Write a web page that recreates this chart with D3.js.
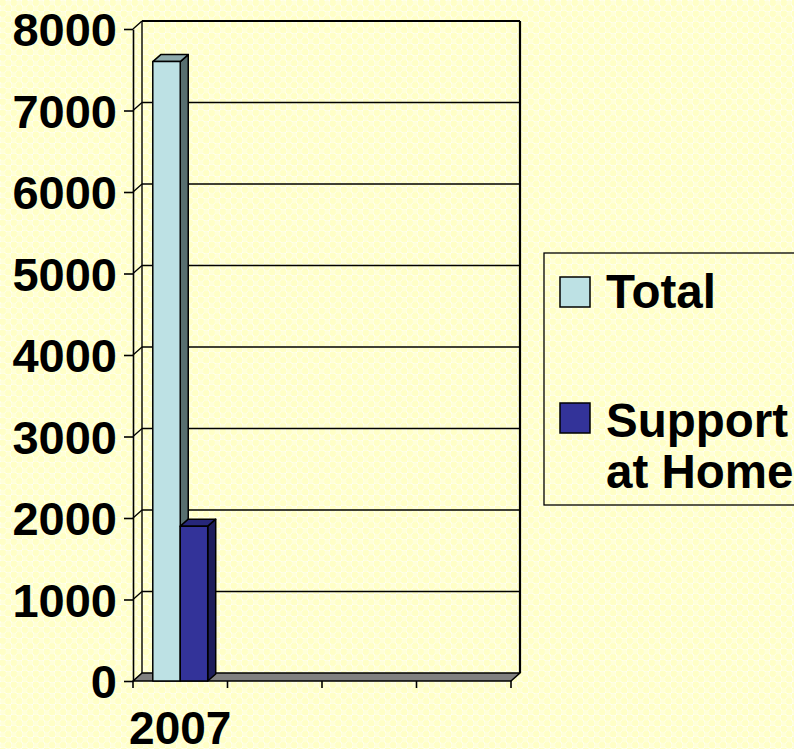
<!DOCTYPE html>
<html>
<head>
<meta charset="utf-8">
<script src="https://cdn.jsdelivr.net/npm/d3@7"></script>
<style>
html,body{margin:0;padding:0;background:#ffffd8;overflow:hidden;}
svg{display:block;}
</style>
</head>
<body>
<svg id="chart" width="794" height="749"></svg>
<script>
// ---- data ----
const categories = ["2007", "", "", ""];
const seriesNames = ["Total", "Support at Home"];
const totalValues = [7600, null, null, null];
const supportValues = [1900, null, null, null];
const yTicks = [0, 1000, 2000, 3000, 4000, 5000, 6000, 7000, 8000];

const colors = {
  "Total": {front: "#bde1e4", top: "#8fabad", side: "#586f70"},
  "Support at Home": {front: "#333399", top: "#27277a", side: "#1e1e5a"}
};

const svg = d3.select("#chart");
const W = 794, H = 749;
const font = "'Liberation Sans', Arial, Helvetica, sans-serif";

// background pattern
const defs = svg.append("defs");
const pat = defs.append("pattern").attr("id", "bg").attr("patternUnits", "userSpaceOnUse")
  .attr("width", 11).attr("height", 11);
pat.append("rect").attr("width", 11).attr("height", 11).attr("fill", "#fffff2");
[[2.75, 2.75], [8.25, 8.25]].forEach(([cx, cy]) => {
  pat.append("circle").attr("cx", cx).attr("cy", cy).attr("r", 3.4).attr("fill", "#ffffc6");
});
[[8.25, 2.75], [2.75, 8.25]].forEach(([cx, cy]) => {
  pat.append("circle").attr("cx", cx).attr("cy", cy).attr("r", 2.6).attr("fill", "#ffffd8");
});
svg.append("rect").attr("width", W).attr("height", H).attr("fill", "url(#bg)");

// scales
const x0 = 133, x1 = 511;
const y = d3.scaleLinear().domain([0, 8000]).range([681, 29]);
const x = d3.scaleBand().domain(d3.range(categories.length)).range([x0, x1]).paddingInner(0).paddingOuter(0);
const xs = d3.scaleBand().domain(seriesNames).range([0, x.bandwidth()]).paddingInner(0).paddingOuter(0.72);
const wdx = 9, wdy = -8;   // wall depth
const bdx = 8, bdy = -7;   // bar depth

// walls / gridlines
const grid = svg.append("g").attr("stroke", "#000").attr("fill", "none");
yTicks.forEach(v => {
  if (v === 0) return;
  const yf = y(v), yb = y(v) + wdy;
  grid.append("line").attr("x1", x0 + wdx).attr("x2", x1 + wdx).attr("y1", yb).attr("y2", yb)
    .attr("stroke-width", v === 8000 ? 2.2 : 1.4);
  grid.append("line").attr("x1", x0).attr("y1", yf).attr("x2", x0 + wdx).attr("y2", yb).attr("stroke-width", 1.4);
});
grid.append("line").attr("x1", x0 + wdx).attr("x2", x0 + wdx).attr("y1", y(8000) + wdy).attr("y2", y(0) + wdy).attr("stroke-width", 1.4);
grid.append("line").attr("x1", x1 + wdx).attr("x2", x1 + wdx).attr("y1", y(8000) + wdy).attr("y2", y(0) + wdy).attr("stroke-width", 2.2);

// floor
svg.append("path")
  .attr("d", `M${x0},${y(0)}L${x1},${y(0)}L${x1 + wdx},${y(0) + wdy}L${x0 + wdx},${y(0) + wdy}Z`)
  .attr("fill", "#808080").attr("stroke", "#000").attr("stroke-width", 1.6).attr("stroke-linejoin", "round");

// bars
const barData = [];
categories.forEach((c, i) => {
  [["Total", totalValues[i]], ["Support at Home", supportValues[i]]].forEach(([s, v]) => {
    if (v != null) barData.push({cat: i, series: s, value: v});
  });
});
const bars = svg.append("g").selectAll("g").data(barData).join("g")
  .attr("stroke", "#000").attr("stroke-width", 1.5).attr("stroke-linejoin", "round");
bars.each(function(d) {
  const g = d3.select(this);
  const bx = x(d.cat) + xs(d.series), bw = xs.bandwidth();
  const yt = y(d.value), yb = y(0);
  const c = colors[d.series];
  g.append("path").attr("fill", c.side)
    .attr("d", `M${bx + bw},${yb}L${bx + bw + bdx},${yb + bdy}L${bx + bw + bdx},${yt + bdy}L${bx + bw},${yt}Z`);
  g.append("path").attr("fill", c.top)
    .attr("d", `M${bx},${yt}L${bx + bdx},${yt + bdy}L${bx + bw + bdx},${yt + bdy}L${bx + bw},${yt}Z`);
  g.append("rect").attr("fill", c.front).attr("x", bx).attr("y", yt).attr("width", bw).attr("height", yb - yt);
});

// y axis
const yAxis = svg.append("g").attr("transform", `translate(${x0},0)`)
  .call(d3.axisLeft(y).tickValues(yTicks).tickSize(9).tickSizeOuter(0).tickPadding(7).tickFormat(d3.format("d")));
yAxis.select(".domain").attr("stroke", "#000").attr("stroke-width", 1.6);
yAxis.selectAll(".tick line").attr("stroke", "#000").attr("stroke-width", 1.6);
yAxis.selectAll(".tick text").attr("font-family", font).attr("font-weight", "bold").attr("font-size", 47)
  .attr("fill", "#000").attr("dy", "0.36em");

// x axis: boundary ticks + category labels
const bounds = d3.range(categories.length + 1).map(i => x0 + i * x.step());
svg.append("g").selectAll("line").data(bounds).join("line")
  .attr("x1", d => d).attr("x2", d => d).attr("y1", y(0)).attr("y2", y(0) + 7)
  .attr("stroke", "#000").attr("stroke-width", 1.6);
svg.append("g").selectAll("text").data(categories).join("text")
  .attr("x", (d, i) => x(i) + x.bandwidth() / 2).attr("y", 744)
  .attr("text-anchor", "middle").attr("font-family", font).attr("font-weight", "bold").attr("font-size", 46)
  .text(d => d);

// legend
const lg = svg.append("g");
lg.append("rect").attr("x", 544).attr("y", 253).attr("width", 300).attr("height", 252)
  .attr("fill", "none").attr("stroke", "#000").attr("stroke-width", 1.3);
const legendItems = [
  {name: "Total", lines: ["Total"], sy: 277, ty: [308]},
  {name: "Support at Home", lines: ["Support", "at Home"], sy: 403, ty: [437, 488]}
];
legendItems.forEach(it => {
  lg.append("rect").attr("x", 560).attr("y", it.sy).attr("width", 30).attr("height", 30)
    .attr("fill", colors[it.name].front).attr("stroke", "#000").attr("stroke-width", 1.5);
  it.lines.forEach((t, k) => {
    lg.append("text").attr("x", 606).attr("y", it.ty[k]).attr("font-family", font)
      .attr("font-weight", "bold").attr("font-size", 47.5).attr("fill", "#000").text(t);
  });
});
</script>
</body>
</html>
